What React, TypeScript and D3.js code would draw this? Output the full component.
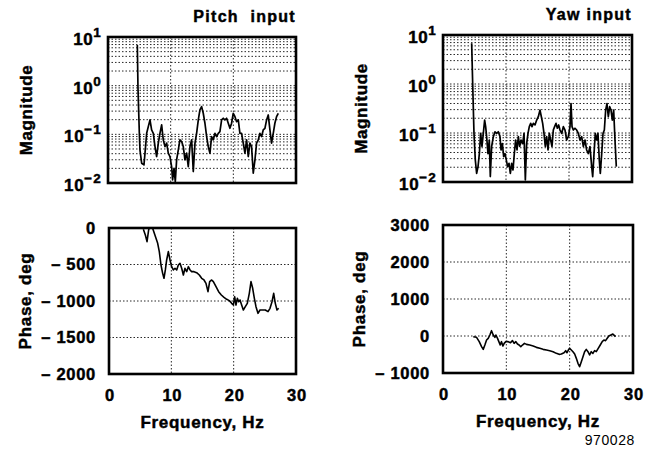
import React from 'react';
import * as d3 from 'd3';

// ---------- data ----------
const xTicks = [0, 10, 20, 30];
const magTickExps = [1, 0, -1, -2];
const pitchPhaseTicks = [0, -500, -1000, -1500, -2000];
const yawPhaseTicks = [3000, 2000, 1000, 0, -1000];

const pitchMagFreq = [4.68, 4.78, 5.0, 5.1, 5.37, 5.74, 5.95, 6.17, 6.43, 6.7, 6.96, 7.23, 7.5, 7.76, 8.03, 8.29, 8.56, 8.82, 9.09, 9.36, 9.62, 9.89, 10.15, 10.31, 10.53, 10.74, 10.95, 11.22, 11.48, 11.75, 12.01, 12.28, 12.55, 12.81, 13.08, 13.34, 13.61, 13.88, 14.14, 14.41, 14.67, 14.94, 15.2, 15.47, 15.74, 16.0, 16.27, 16.53, 16.8, 17.07, 17.33, 17.6, 17.86, 18.13, 18.39, 18.66, 18.93, 19.19, 19.46, 19.72, 19.99, 20.26, 20.52, 20.79, 21.05, 21.32, 21.58, 21.85, 22.12, 22.38, 22.65, 22.91, 23.18, 23.45, 23.71, 23.98, 24.24, 24.51, 24.77, 25.04, 25.31, 25.57, 25.84, 26.1, 26.37, 26.63, 26.9, 27.17];
const pitchMagValues = [6.85, 0.95, 0.105, 0.048, 0.0255, 0.0235, 0.048, 0.105, 0.144, 0.198, 0.123, 0.105, 0.056, 0.035, 0.066, 0.105, 0.156, 0.077, 0.056, 0.066, 0.041, 0.035, 0.0217, 0.0116, 0.0201, 0.0107, 0.0298, 0.048, 0.077, 0.071, 0.056, 0.03, 0.041, 0.0217, 0.056, 0.077, 0.0172, 0.066, 0.105, 0.198, 0.317, 0.371, 0.271, 0.169, 0.09, 0.056, 0.041, 0.09, 0.077, 0.105, 0.09, 0.105, 0.114, 0.198, 0.214, 0.198, 0.214, 0.169, 0.133, 0.169, 0.271, 0.231, 0.182, 0.198, 0.105, 0.105, 0.066, 0.041, 0.077, 0.035, 0.066, 0.056, 0.0159, 0.03, 0.066, 0.077, 0.105, 0.09, 0.123, 0.133, 0.198, 0.25, 0.123, 0.066, 0.105, 0.169, 0.231, 0.271];

const yawMagFreq = [4.55, 4.71, 4.92, 5.13, 5.34, 5.56, 5.77, 5.98, 6.19, 6.4, 6.61, 6.77, 6.93, 7.14, 7.35, 7.51, 7.72, 7.99, 8.25, 8.52, 8.78, 9.05, 9.21, 9.42, 9.63, 9.84, 10.05, 10.26, 10.48, 10.69, 10.9, 11.11, 11.32, 11.53, 11.75, 11.96, 12.17, 12.38, 12.65, 12.86, 13.07, 13.28, 13.49, 13.7, 13.92, 14.13, 14.34, 14.6, 14.87, 15.13, 15.4, 15.61, 15.82, 16.03, 16.24, 16.46, 16.67, 16.88, 17.09, 17.3, 17.51, 17.72, 17.94, 18.15, 18.36, 18.57, 18.84, 19.1, 19.37, 19.63, 19.89, 20.16, 20.32, 20.48, 20.69, 20.95, 21.22, 21.48, 21.75, 22.01, 22.28, 22.54, 22.8, 23.07, 23.33, 23.6, 23.76, 23.97, 24.18, 24.39, 24.6, 24.81, 24.97, 25.19, 25.4, 25.61, 25.82, 26.03, 26.24, 26.46, 26.67, 26.88, 27.09, 27.3, 27.51];
const yawMagValues = [6.8, 1.03, 0.098, 0.028, 0.015, 0.0206, 0.038, 0.098, 0.053, 0.098, 0.184, 0.135, 0.084, 0.038, 0.072, 0.0129, 0.053, 0.084, 0.106, 0.098, 0.106, 0.084, 0.045, 0.061, 0.033, 0.038, 0.028, 0.0206, 0.024, 0.015, 0.024, 0.0176, 0.038, 0.072, 0.045, 0.084, 0.053, 0.072, 0.061, 0.098, 0.011, 0.061, 0.098, 0.135, 0.157, 0.135, 0.157, 0.146, 0.184, 0.215, 0.294, 0.215, 0.157, 0.098, 0.053, 0.084, 0.045, 0.098, 0.072, 0.053, 0.115, 0.135, 0.157, 0.125, 0.146, 0.115, 0.098, 0.135, 0.115, 0.072, 0.084, 0.135, 0.4, 0.135, 0.115, 0.125, 0.115, 0.098, 0.072, 0.084, 0.053, 0.072, 0.045, 0.038, 0.053, 0.0206, 0.0129, 0.038, 0.098, 0.072, 0.098, 0.028, 0.015, 0.038, 0.098, 0.115, 0.294, 0.4, 0.215, 0.344, 0.294, 0.184, 0.294, 0.072, 0.0206];

const pitchPhaseFreq = [5.51, 5.83, 6.1, 6.36, 6.68, 7.0, 7.27, 7.54, 7.81, 8.07, 8.34, 8.61, 8.82, 9.04, 9.25, 9.52, 9.79, 10.05, 10.32, 10.59, 10.86, 11.12, 11.39, 11.66, 11.93, 12.19, 12.46, 12.73, 13.0, 13.26, 13.64, 14.06, 14.49, 14.87, 15.24, 15.56, 15.88, 16.15, 16.47, 16.74, 17.17, 17.59, 18.02, 18.45, 18.88, 19.3, 19.68, 19.95, 20.16, 20.37, 20.59, 20.8, 21.02, 21.28, 21.55, 21.87, 22.19, 22.51, 22.78, 23.05, 23.32, 23.58, 23.9, 24.22, 24.65, 25.08, 25.51, 25.83, 26.15, 26.42, 26.68, 26.95, 27.22];
const pitchPhaseValues = [-18, -96, -187, -27, 64, -5, -73, -142, -210, -324, -507, -621, -689, -575, -438, -324, -438, -530, -575, -552, -575, -507, -484, -552, -644, -552, -598, -530, -575, -598, -598, -612, -644, -689, -712, -758, -872, -735, -712, -735, -804, -872, -918, -950, -977, -995, -1032, -1055, -941, -1055, -963, -1009, -986, -1055, -1123, -1078, -1032, -895, -735, -826, -963, -1078, -1169, -1123, -1123, -1123, -1146, -1100, -1009, -895, -1032, -1123, -1100];

const yawPhaseFreq = [4.78, 5.3, 5.72, 6.09, 6.35, 6.61, 6.88, 7.14, 7.4, 7.66, 7.93, 8.19, 8.35, 8.61, 8.82, 9.03, 9.24, 9.45, 9.66, 9.92, 10.29, 10.66, 10.97, 11.23, 11.5, 11.76, 12.02, 12.28, 12.55, 12.86, 13.18, 13.7, 14.23, 14.75, 15.28, 15.8, 16.33, 16.85, 17.38, 17.9, 18.32, 18.69, 19.11, 19.37, 19.58, 19.79, 19.99, 20.26, 20.52, 20.79, 21.05, 21.31, 21.57, 21.84, 22.1, 22.36, 22.62, 22.89, 23.15, 23.41, 23.67, 23.94, 24.2, 24.51, 24.83, 25.14, 25.41, 25.67, 25.93, 26.19, 26.51, 26.82, 27.03, 27.24];
const yawPhaseValues = [-18, -36, -153, -289, -361, -244, -108, -63, 27, 144, 27, -36, 27, -63, -153, -244, -153, -271, -199, -153, -153, -180, -126, -199, -153, -217, -244, -289, -244, -199, -226, -244, -271, -307, -334, -361, -379, -397, -424, -469, -496, -487, -451, -397, -451, -379, -334, -379, -424, -487, -604, -739, -829, -694, -559, -424, -361, -424, -514, -424, -469, -397, -424, -334, -244, -153, -108, -126, -63, 0, 27, 54, 18, -18];

// ---------- layout ----------
const FONT = '"Liberation Sans", Arial, Helvetica, sans-serif';
const BOLD = { fontFamily: FONT, fontWeight: 'bold' as const, stroke: '#000', strokeWidth: 0.45 };

type Box = { x0: number; x1: number; y0: number; y1: number };

const boxes = {
  pitchMag: { x0: 108, x1: 296, y0: 37, y1: 183 },
  yawMag: { x0: 443, x1: 632, y0: 35, y1: 182 },
  pitchPhase: { x0: 109, x1: 296, y0: 228, y1: 374 },
  yawPhase: { x0: 443, x1: 633, y0: 225, y1: 373 },
};

const GRID = { stroke: '#111', strokeWidth: 0.9, strokeDasharray: '1.5,2' };

function MagPanel({ id, box, freq, values, title }: { id: string; box: Box; freq: number[]; values: number[]; title: string }) {
  const x = d3.scaleLinear().domain([0, 30]).range([box.x0, box.x1]);
  const y = d3.scaleLog().domain([0.01, 10]).range([box.y1, box.y0]);
  const line = d3.line<number>().x((_, i) => x(freq[i])).y((v) => y(v));
  const minor: number[] = [];
  for (let k = -2; k <= 0; k++) for (let m = 1; m <= 9; m++) minor.push(m * Math.pow(10, k));
  return (
    <g>
      <defs>
        <clipPath id={id}>
          <rect x={box.x0} y={box.y0} width={box.x1 - box.x0} height={box.y1 - box.y0} />
        </clipPath>
      </defs>
      {minor.map((v, i) => (
        <line key={'h' + i} x1={box.x0} x2={box.x1} y1={y(v)} y2={y(v)} {...GRID} />
      ))}
      {[10, 20].map((v) => (
        <line key={'v' + v} x1={x(v)} x2={x(v)} y1={box.y0} y2={box.y1} {...GRID} />
      ))}
      <path d={line(values) || ''} fill="none" stroke="#000" strokeWidth={1.7} strokeLinejoin="round" clipPath={`url(#${id})`} />
      <rect x={box.x0} y={box.y0} width={box.x1 - box.x0} height={box.y1 - box.y0} fill="none" stroke="#000" strokeWidth={2.6} />
      {magTickExps.map((e) => (
        <text key={e} x={box.x0 - 6} y={y(Math.pow(10, e)) + 8} textAnchor="end" {...BOLD} fontSize={17} letterSpacing={0.6}>
          <tspan>10</tspan>
          <tspan dy={-8} fontSize={13.5} letterSpacing={1.2}>{e < 0 ? '\u2212' + Math.abs(e) : String(e)}</tspan>
        </text>
      ))}
      <text transform={`translate(${box.x0 - 82},${(box.y0 + box.y1) / 2}) rotate(-90)`} textAnchor="middle" dominantBaseline="central" {...BOLD} fontSize={17} letterSpacing={0.6}>Magnitude</text>
      <text x={box.x1} y={box.y0 - 15} textAnchor="end" {...BOLD} fontSize={16} letterSpacing={1.3}>{title}</text>
    </g>
  );
}

function PhasePanel({ id, box, freq, values, ticks }: { id: string; box: Box; freq: number[]; values: number[]; ticks: number[] }) {
  const x = d3.scaleLinear().domain([0, 30]).range([box.x0, box.x1]);
  const y = d3.scaleLinear().domain([d3.min(ticks)!, d3.max(ticks)!]).range([box.y1, box.y0]);
  const line = d3.line<number>().x((_, i) => x(freq[i])).y((v) => y(v));
  const fmt = (v: number) => (v < 0 ? '\u2013 ' + Math.abs(v) : String(v));
  return (
    <g>
      <defs>
        <clipPath id={id}>
          <rect x={box.x0} y={box.y0} width={box.x1 - box.x0} height={box.y1 - box.y0} />
        </clipPath>
      </defs>
      {ticks.slice(1, -1).map((v) => (
        <line key={'h' + v} x1={box.x0} x2={box.x1} y1={y(v)} y2={y(v)} {...GRID} />
      ))}
      {[10, 20].map((v) => (
        <line key={'v' + v} x1={x(v)} x2={x(v)} y1={box.y0} y2={box.y1} {...GRID} />
      ))}
      <path d={line(values) || ''} fill="none" stroke="#000" strokeWidth={1.6} strokeLinejoin="round" clipPath={`url(#${id})`} />
      <rect x={box.x0} y={box.y0} width={box.x1 - box.x0} height={box.y1 - box.y0} fill="none" stroke="#000" strokeWidth={2.6} />
      {ticks.map((v) => (
        <text key={v} x={box.x0 - 13} y={y(v)} dy="0.36em" textAnchor="end" {...BOLD} fontSize={16.5} letterSpacing={0.7}>{fmt(v)}</text>
      ))}
      {xTicks.map((v) => (
        <text key={'x' + v} x={x(v) + 1} y={box.y1 + 21} dy="0.36em" textAnchor="middle" {...BOLD} fontSize={16.5} letterSpacing={0.7}>{v}</text>
      ))}
      <text x={(box.x0 + box.x1) / 2} y={box.y1 + 48} dy="0.36em" textAnchor="middle" {...BOLD} fontSize={17} letterSpacing={0.7}>Frequency, Hz</text>
      <text transform={`translate(${box.x0 - 84},${(box.y0 + box.y1) / 2}) rotate(-90)`} textAnchor="middle" dominantBaseline="central" {...BOLD} fontSize={17} letterSpacing={0.7}>Phase, deg</text>
    </g>
  );
}

export default function App() {
  return (
    <svg width={648} height={449} viewBox="0 0 648 449" style={{ position: 'absolute', left: 0, top: 0, background: '#fff' }}>
      <rect x={0} y={0} width={648} height={449} fill="#fff" />
      <MagPanel id="clipPM" box={boxes.pitchMag} freq={pitchMagFreq} values={pitchMagValues} title={'Pitch\u00a0 input'} />
      <MagPanel id="clipYM" box={boxes.yawMag} freq={yawMagFreq} values={yawMagValues} title="Yaw input" />
      <PhasePanel id="clipPP" box={boxes.pitchPhase} freq={pitchPhaseFreq} values={pitchPhaseValues} ticks={pitchPhaseTicks} />
      <PhasePanel id="clipYP" box={boxes.yawPhase} freq={yawPhaseFreq} values={yawPhaseValues} ticks={yawPhaseTicks} />
      <text x={635} y={445} textAnchor="end" fontFamily={FONT} fontSize={14} letterSpacing={0.6}>970028</text>
    </svg>
  );
}
